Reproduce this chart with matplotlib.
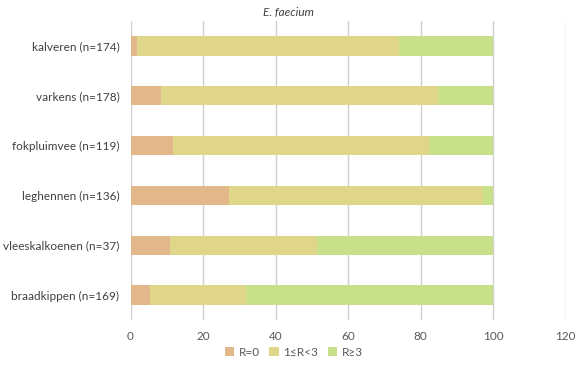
import matplotlib
matplotlib.use("Agg")
import matplotlib.pyplot as plt
import numpy as np

categories = ["kalveren (n=174)", "varkens (n=178)", "fokpluimvee (n=119)",
              "leghennen (n=136)", "vleeskalkoenen (n=37)", "braadkippen (n=169)"]
r0 = [1.7, 8.4, 11.8, 27.2, 10.8, 5.3]
r1_3 = [72.4, 76.4, 70.6, 69.9, 40.5, 26.6]
r3 = [25.9, 15.2, 17.6, 2.9, 48.6, 68.0]
series_names = ["R=0", "1\u2264R<3", "R\u22653"]
colors = ["#E2B78A", "#E0D68A", "#C9E08A"]
xticks = [0, 20, 40, 60, 80, 100, 120]

plt.rcParams['font.family'] = ['Lato', 'DejaVu Sans']
fig = plt.figure(figsize=(5.76, 3.65), dpi=100)
ax = fig.add_axes([0.2266, 0.1233, 0.9820 - 0.2266, 0.9425 - 0.1233])

y = np.arange(len(categories))
left = np.zeros(len(categories))
for vals, name, c in zip([r0, r1_3, r3], series_names, colors):
    ax.barh(y, vals, left=left, height=0.39, color=c, label=name, zorder=2)
    left = left + np.array(vals)

ax.set_ylim(len(categories) - 0.5, -0.5)
ax.set_xlim(0, 120)
ax.set_xticks(xticks)
ax.set_yticks(y)
ax.set_yticklabels(categories)
ax.grid(axis='x', color='#D0D0D0', linewidth=1, zorder=0)
for s in ax.spines.values():
    s.set_visible(False)
ax.tick_params(axis='both', length=0, colors='#595959', labelsize=8.5)
ax.tick_params(axis='y', pad=8, labelcolor='#404040')
ax.tick_params(axis='x', pad=8)
fig.text(0.5, 0.982, "E. faecium", ha='center', va='top', style='italic',
         fontsize=8.5, color='#404040')
fig.legend(loc='center', bbox_to_anchor=(0.51, 0.035), ncol=3, frameon=False,
           fontsize=8.5, handlelength=0.8, handleheight=0.8, handletextpad=0.4,
           columnspacing=0.8, labelcolor='#595959')
fig.savefig("out.png", dpi=100)
